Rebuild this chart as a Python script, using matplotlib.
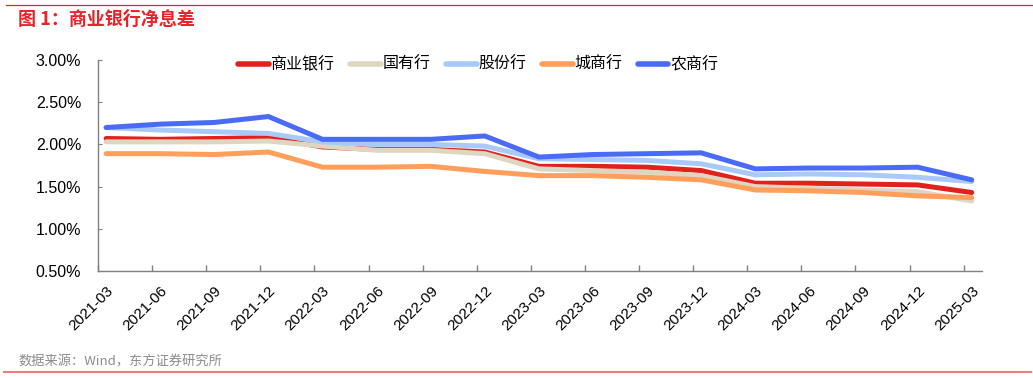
import matplotlib
matplotlib.use("Agg")
import matplotlib.pyplot as plt
from matplotlib.ticker import FuncFormatter, FixedLocator

plt.rcParams['font.family'] = ['Liberation Sans', 'Noto Sans CJK SC', 'DejaVu Sans']

dates = ['2021-03', '2021-06', '2021-09', '2021-12', '2022-03', '2022-06', '2022-09', '2022-12',
         '2023-03', '2023-06', '2023-09', '2023-12', '2024-03', '2024-06', '2024-09', '2024-12', '2025-03']
commercial = [2.07, 2.06, 2.07, 2.08, 1.97, 1.94, 1.94, 1.91, 1.74, 1.74, 1.73, 1.69, 1.54, 1.54, 1.53, 1.52, 1.43]
state_owned = [2.03, 2.03, 2.03, 2.04, 1.98, 1.93, 1.93, 1.89, 1.71, 1.69, 1.67, 1.63, 1.50, 1.48, 1.46, 1.44, 1.33]
joint_stock = [2.20, 2.17, 2.15, 2.13, 2.03, 2.00, 2.00, 1.98, 1.83, 1.82, 1.81, 1.77, 1.64, 1.65, 1.64, 1.61, 1.56]
city_comm = [1.89, 1.89, 1.88, 1.91, 1.73, 1.73, 1.74, 1.68, 1.63, 1.63, 1.61, 1.58, 1.46, 1.45, 1.43, 1.39, 1.37]
rural_comm = [2.20, 2.24, 2.26, 2.33, 2.06, 2.06, 2.06, 2.10, 1.85, 1.88, 1.89, 1.90, 1.71, 1.72, 1.72, 1.73, 1.58]

series_names = ['商业银行', '国有行', '股份行', '城商行', '农商行']
series_values = [commercial, state_owned, joint_stock, city_comm, rural_comm]
colors = ['#E2211C', '#DFD6C1', '#A9C9F9', '#FF9F5B', '#4A6BF5']

fig = plt.figure(figsize=(10.33, 3.78), dpi=100)
ax = fig.add_axes([98 / 1033, 1 - 271 / 378, (982 - 98) / 1033, (271 - 60) / 378])

offset = 0.15
xs = [i + offset for i in range(len(dates))]
lines = []
for k, (name, vals, c) in enumerate(zip(series_names, series_values, colors)):
    ln, = ax.plot(xs, vals, color=c, lw=3.6, label=name, zorder=2 + k,
                  solid_joinstyle='miter', solid_capstyle='round')
    lines.append(ln)

ax.set_xlim(0, 16.34)
ax.set_ylim(0.5, 3.0)
ax.set_yticks([0.5, 1.0, 1.5, 2.0, 2.5, 3.0])
ax.yaxis.set_major_formatter(FuncFormatter(lambda v, p: f"{v:.2f}%"))

ax.set_xticks(xs)
ax.set_xticklabels(dates, rotation=45, ha='right', va='top', rotation_mode='anchor')
ax.xaxis.set_minor_locator(FixedLocator(list(range(len(dates)))))
ax.tick_params(axis='x', which='major', length=0, pad=9, labelsize=11, colors='#000000')
ax.tick_params(axis='x', which='minor', length=4, direction='in', color='#808080', width=1)
ax.tick_params(axis='y', which='major', length=3, direction='in', color='#808080', labelsize=11.5, pad=12)

for s in ['top', 'right']:
    ax.spines[s].set_visible(False)
for s in ['left', 'bottom']:
    ax.spines[s].set_color('#808080')
    ax.spines[s].set_linewidth(1)

leg = fig.legend(handles=lines, labels=series_names, loc='center', bbox_to_anchor=(0.463, 0.829),
                 ncol=5, frameon=False, handlelength=1.9, handletextpad=0.1,
                 columnspacing=1.0, prop={'family': ['Noto Sans CJK SC'], 'size': 11.5})
for h in leg.get_lines():
    h.set_linewidth(4)
    h.set_solid_capstyle('round')

fig.text(18 / 1033, 1 - 19 / 378, '图 1：商业银行净息差', color='#E8232A', fontsize=13, fontweight='bold',
         ha='left', va='center', family=['Noto Sans CJK SC', 'DejaVu Sans'])
fig.text(18 / 1033, 1 - 362 / 378, '数据来源：Wind，东方证券研究所', color='#8C8C8C', fontsize=9.5,
         ha='left', va='center', family=['Noto Sans CJK SC', 'DejaVu Sans'])

fig.add_artist(plt.Line2D([6 / 1033, 1.0], [1 - 5 / 378, 1 - 5 / 378], color='#E8232A', lw=0.9,
                          transform=fig.transFigure))
fig.add_artist(plt.Line2D([4 / 1033, 1031 / 1033], [1 - 372 / 378, 1 - 372 / 378], color='#F07C7C', lw=1.5,
                          transform=fig.transFigure))

fig.savefig('out.png', dpi=100)
